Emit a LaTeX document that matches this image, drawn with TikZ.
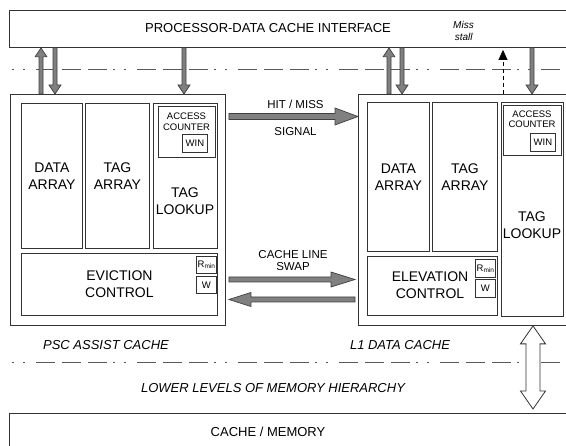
\documentclass[tikz,border=0pt]{standalone}
\usepackage{fontspec}
\setmainfont{Liberation Sans}
\usetikzlibrary{calc,arrows.meta}

\tikzset{
  % parameters of the block arrows
  bshaft/.store in=\bsw, bhead/.store in=\bhw, bheadlen/.store in=\bhl,
  bgapstart/.store in=\bgs, bgapend/.store in=\bge,
  bshaft=2pt, bhead=6pt, bheadlen=9pt, bgapstart=0pt, bgapend=0pt,
  % vertical block arrow
  vblock/.style={to path={
    let \p1=($(\tikztostart)!\bgs!(\tikztotarget)$),
        \p2=($(\tikztotarget)!\bge!(\tikztostart)$),
        \p3=($(\p2)!\bhl!(\p1)$) in
    (\x1-\bsw,\y1) -- (\x1-\bsw,\y3) -- (\x1-\bhw,\y3) -- (\x1,\y2)
    -- (\x1+\bhw,\y3) -- (\x1+\bsw,\y3) -- (\x1+\bsw,\y1) -- cycle}},
  % horizontal block arrow
  hblock/.style={to path={
    let \p1=($(\tikztostart)!\bgs!(\tikztotarget)$),
        \p2=($(\tikztotarget)!\bge!(\tikztostart)$),
        \p3=($(\p2)!\bhl!(\p1)$) in
    (\x1,\y1-\bsw) -- (\x3,\y1-\bsw) -- (\x3,\y1-\bhw) -- (\x2,\y1)
    -- (\x3,\y1+\bhw) -- (\x3,\y1+\bsw) -- (\x1,\y1+\bsw) -- cycle}},
  % vertical block arrow with two heads
  dblock/.style={to path={
    let \p1=($(\tikztostart)!\bgs!(\tikztotarget)$),
        \p2=($(\tikztotarget)!\bge!(\tikztostart)$),
        \p3=($(\p2)!\bhl!(\p1)$),
        \p4=($(\p1)!\bhl!(\p2)$) in
    (\x1,\y1) -- (\x1+\bhw,\y4) -- (\x1+\bsw,\y4) -- (\x1+\bsw,\y3)
    -- (\x1+\bhw,\y3) -- (\x1,\y2) -- (\x1-\bhw,\y3) -- (\x1-\bsw,\y3)
    -- (\x1-\bsw,\y4) -- (\x1-\bhw,\y4) -- cycle}},
  garrow/.style={draw=black!75, fill=black!50, line width=0.7pt, line join=miter},
  warrow/.style={draw=black!80, fill=white, line width=0.8pt, line join=miter},
  box/.style={draw=black!80, line width=0.9pt, fill=white, inner sep=0pt,
    anchor=north west, align=center, font=\fontsize{14}{17}\selectfont},
  smallbox/.style={draw=black!80, line width=0.8pt, fill=white, inner sep=0pt,
    anchor=north west, font=\fontsize{9.5}{10.5}\selectfont},
  lbl/.style={inner sep=0pt, align=center, font=\fontsize{13}{15}\selectfont},
  inlbl/.style={inner sep=0pt, align=center, font=\fontsize{14}{17}\selectfont},
  tinylbl/.style={inner sep=0pt, align=center, font=\fontsize{9.5}{10.5}\selectfont},
  arrlbl/.style={inner sep=0pt, align=center, font=\fontsize{11.5}{11.5}\selectfont},
  itlbl/.style={inner sep=0pt, font=\fontsize{13}{15}\selectfont\itshape},
  misslbl/.style={inner sep=0pt, align=left, font=\fontsize{10}{12}\selectfont\itshape},
  levelline/.style={draw=black!65, line width=1pt,
    dash pattern=on 2pt off 9pt on 2pt off 11pt on 19pt off 7pt on 19pt off 7pt on 19pt off 6pt},
  missarrow/.style={draw=black, line width=0.7pt, dash pattern=on 4pt off 3pt,
    -{Triangle[length=10pt,width=9pt]}, shorten >=2pt},
}

\newcommand\rminlabel{R\raisebox{-0.2ex}{\fontsize{6.5}{6.5}\selectfont min}}

\begin{document}
\begin{tikzpicture}[x=1pt,y=-1pt]
\useasboundingbox (0,0) rectangle (566,446);
\clip (0,0) rectangle (566,446);
\fill[white] (0,0) rectangle (566,446);

% level separators
\draw[levelline] (12,70) -- (566,70);
\draw[levelline] (12,363) -- (566,363);

% processor interface and memory
\node[box, minimum width=571pt, minimum height=37pt] (iface) at (9,10) {};
\node[lbl] (ifacelbl) at (268,28) {PROCESSOR-DATA CACHE INTERFACE};
\node[box, minimum width=571pt, minimum height=50pt] (mem) at (9,413) {};
\node[lbl] (memlbl) at (268,432) {CACHE / MEMORY};

% PSC assist cache
\node[box, minimum width=215pt, minimum height=231pt] (psc) at (10,94) {};
\node[box, minimum width=61pt, minimum height=145pt] (pdata) at (21,103) {DATA\\ARRAY};
\node[box, minimum width=64pt, minimum height=145pt] (ptag) at (85,103) {TAG\\ARRAY};
\node[box, minimum width=64pt, minimum height=145pt] (plook) at (153,103) {};
\node[box, minimum width=57pt, minimum height=51pt] (pacc) at (158,106) {};
\node[tinylbl] (pacclbl) at (186.5,121.5) {ACCESS\\COUNTER};
\node[smallbox, minimum width=25pt, minimum height=18pt] (pwin) at (182,134) {WIN};
\node[inlbl] (plooklbl) at (185,201) {TAG\\LOOKUP};
\node[box, minimum width=196pt, minimum height=62pt] (pevict) at (21,253) {EVICTION\\CONTROL};
\node[smallbox, minimum width=20pt, minimum height=17pt] (prmin) at (196,256) {\rminlabel};
\node[smallbox, minimum width=20pt, minimum height=17pt] (pw) at (196,276) {W};

% L1 data cache
\node[box, minimum width=207.5pt, minimum height=231pt] (l1) at (358,94) {};
\node[box, minimum width=62pt, minimum height=149pt] (ldata) at (367,102) {DATA\\ARRAY};
\node[box, minimum width=65pt, minimum height=149pt] (ltag) at (432,102) {TAG\\ARRAY};
\node[box, minimum width=62pt, minimum height=214pt] (llook) at (501,102) {};
\node[box, minimum width=58pt, minimum height=50pt] (lacc) at (503,105) {};
\node[tinylbl] (lacclbl) at (532,119) {ACCESS\\COUNTER};
\node[smallbox, minimum width=25pt, minimum height=18pt] (lwin) at (530,133) {WIN};
\node[inlbl] (llooklbl) at (532,225) {TAG\\LOOKUP};
\node[box, minimum width=130pt, minimum height=59pt] (lelev) at (367,256) {};
\node[inlbl] (lelevlbl) at (430,285.5) {ELEVATION\\CONTROL};
\node[smallbox, minimum width=20pt, minimum height=18pt] (lrmin) at (475,259) {\rminlabel};
\node[smallbox, minimum width=20pt, minimum height=18pt] (lw) at (475,279) {W};

% cache names and level name
\node[itlbl] (psclbl) at (106,345) {PSC ASSIST CACHE};
\node[itlbl] (l1lbl) at (400,345) {L1 DATA CACHE};
\node[itlbl] (lowerlbl) at (273,388) {LOWER LEVELS OF MEMORY HIERARCHY};

% processor <-> caches
\draw[garrow] (41,0 |- psc.north) to[vblock] (41,0 |- iface.south);
\draw[garrow] (55,0 |- iface.south) to[vblock] (55,0 |- psc.north);
\draw[garrow] (184,0 |- iface.south) to[vblock] (184,0 |- psc.north);
\draw[garrow] (389,0 |- l1.north) to[vblock] (389,0 |- iface.south);
\draw[garrow] (402,0 |- iface.south) to[vblock] (402,0 |- l1.north);
\draw[garrow] (532,0 |- iface.south) to[vblock] (532,0 |- l1.north);
\draw[missarrow] (503,0 |- l1.north) -- (503,0 |- iface.south);
\node[misslbl, anchor=west] (misslbl) at (453,31) {Miss\\\,stall};

% PSC <-> L1
\draw[garrow, bshaft=3pt, bhead=8.5pt, bheadlen=23pt, bgapstart=3pt]
  (psc.east |- 0,116.5) to[hblock] (l1.west |- 0,116.5);
\node[arrlbl] (hitlbl) at (295.5,104.5) {HIT / MISS};
\node[arrlbl] (siglbl) at (295.5,132) {SIGNAL};
\node[arrlbl] (swaplbl) at (293,260.5) {CACHE LINE\\SWAP};
\draw[garrow, bshaft=2.5pt, bhead=7.5pt, bheadlen=24pt, bgapstart=3pt, bgapend=3pt]
  (psc.east |- 0,279.5) to[hblock] (l1.west |- 0,279.5);
\draw[garrow, bshaft=2.5pt, bhead=7pt, bheadlen=22pt, bgapstart=3pt, bgapend=3pt]
  (l1.west |- 0,299.5) to[hblock] (psc.east |- 0,299.5);

% L1 <-> lower levels
\draw[warrow, bshaft=7pt, bhead=12.5pt, bheadlen=18pt, bgapend=4pt]
  (533,0 |- l1.south) to[dblock] (533,0 |- mem.north);
\end{tikzpicture}
\end{document}
